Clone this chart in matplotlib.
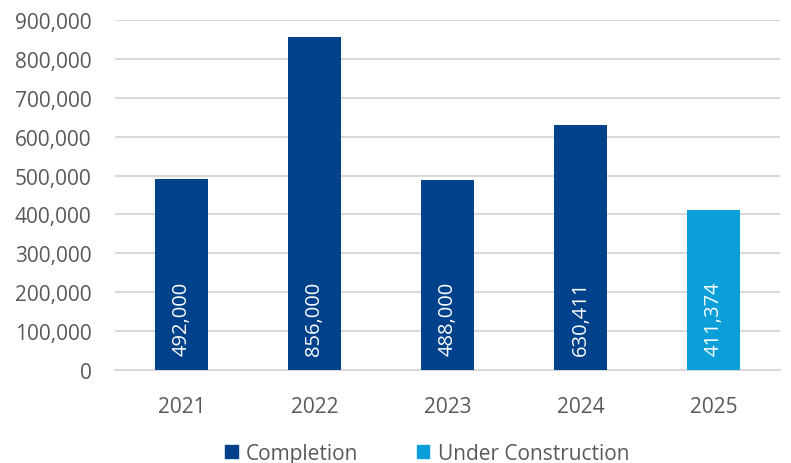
import numpy as np
import matplotlib.pyplot as plt

plt.rcParams['font.family'] = ['Open Sans', 'DejaVu Sans']

# Data
years = ['2021', '2022', '2023', '2024', '2025']
values = [492000, 856000, 488000, 630411, 411374]
status = ['Completion', 'Completion', 'Completion', 'Completion', 'Under Construction']

colors = {'Completion': '#00418c', 'Under Construction': '#0b9fda'}
text_grey = '#595959'

fig = plt.figure(figsize=(7.91, 4.64), dpi=100)
ax = fig.add_axes([0.1454, 0.2004, 0.8406, 0.7543])

x = np.arange(len(years))
bar_colors = [colors[s] for s in status]
ax.bar(x, values, width=0.4, color=bar_colors, zorder=3)

# value labels inside bars
for xi, v in zip(x, values):
    ax.annotate(f'{v:,}', xy=(xi, 0), xytext=(0, 15), textcoords='offset pixels',
                rotation=90, ha='center', va='bottom', color='white', fontsize=14.5,
                zorder=4)

ax.set_ylim(0, 900000)
ax.set_xlim(-0.5, len(years) - 0.5)
ax.set_yticks(np.arange(0, 900001, 100000))
ax.set_yticklabels([f'{t:,}' for t in np.arange(0, 900001, 100000)])
ax.set_xticks(x)
ax.set_xticklabels(years)

ax.grid(axis='y', color='#d9d9d9', linewidth=1.5, zorder=0)
for s in ['top', 'right', 'left']:
    ax.spines[s].set_visible(False)
ax.spines['bottom'].set_color('#d9d9d9')
ax.spines['bottom'].set_linewidth(1.5)

ax.tick_params(axis='both', length=0, labelsize=15, colors=text_grey)
ax.tick_params(axis='y', pad=17)
ax.tick_params(axis='x', pad=19)

# legend
handles = [plt.Rectangle((0, 0), 1, 1, color=colors[k]) for k in colors]
fig.legend(handles, list(colors.keys()), loc='center', bbox_to_anchor=(0.54, 0.02),
           ncol=2, frameon=False, fontsize=15, labelcolor=text_grey,
           handlelength=0.6, handleheight=0.6, handletextpad=0.4, columnspacing=2.8)

fig.savefig('out.png', dpi=100)
